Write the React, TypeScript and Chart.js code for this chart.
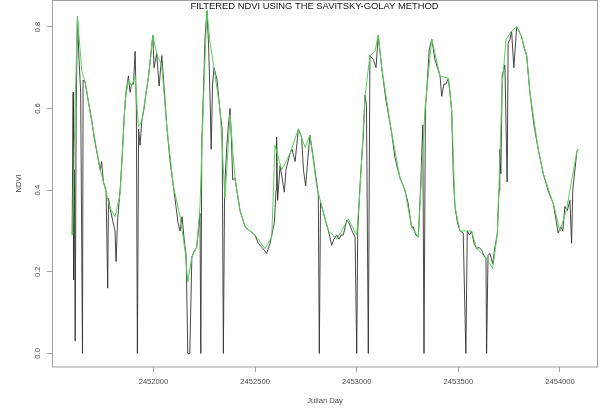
import React, { useEffect, useRef } from "react";
import { Chart, registerables } from "chart.js";

Chart.register(...registerables);

const TITLE = "FILTERED NDVI USING THE SAVITSKY-GOLAY METHOD";
const X_LABEL = "Julian Day";
const Y_LABEL = "NDVI";
const X_TICKS = [2452000, 2452500, 2453000, 2453500, 2454000];
const X_TICK_LABELS = ["2452000", "2452500", "2453000", "2453500", "2454000"];
const Y_TICKS = [0, 0.2, 0.4, 0.6, 0.8];
const Y_TICK_LABELS = ["0.0", "0.2", "0.4", "0.6", "0.8"];

// raw NDVI (black)
const rawDays = [
  2451600, 2451605, 2451607, 2451611, 2451615, 2451620, 2451626, 2451634, 2451642, 2451651,
  2451654, 2451664, 2451679, 2451697, 2451708, 2451723, 2451738, 2451745, 2451754, 2451767,
  2451775, 2451779, 2451787, 2451802, 2451811, 2451816, 2451824, 2451836, 2451846, 2451856,
  2451865, 2451877, 2451885, 2451893, 2451902, 2451910, 2451916, 2451921, 2451927, 2451934,
  2451943, 2451954, 2451964, 2451975, 2451984, 2451997, 2452003, 2452016, 2452028, 2452041,
  2452047, 2452057, 2452066, 2452082, 2452098, 2452111, 2452121, 2452131, 2452141, 2452151,
  2452161, 2452169, 2452179, 2452189, 2452200, 2452213, 2452221, 2452229, 2452233, 2452238,
  2452246, 2452254, 2452263, 2452271, 2452279, 2452284, 2452291, 2452298, 2452313, 2452328,
  2452338, 2452344, 2452350, 2452361, 2452369, 2452377, 2452384, 2452390, 2452401, 2452426,
  2452451, 2452475, 2452500, 2452515, 2452534, 2452557, 2452574, 2452582, 2452595, 2452603,
  2452606, 2452611, 2452623, 2452633, 2452644, 2452652, 2452672, 2452682, 2452697, 2452713,
  2452729, 2452738, 2452749, 2452760, 2452770, 2452786, 2452800, 2452811, 2452816, 2452822,
  2452831, 2452844, 2452861, 2452877, 2452888, 2452902, 2452913, 2452923, 2452934, 2452951,
  2452962, 2452977, 2452992, 2453000, 2453005, 2453016, 2453033, 2453041, 2453048, 2453057,
  2453065, 2453082, 2453095, 2453106, 2453123, 2453144, 2453172, 2453188, 2453213, 2453237,
  2453252, 2453270, 2453278, 2453291, 2453303, 2453314, 2453325, 2453331, 2453338, 2453344,
  2453357, 2453369, 2453385, 2453410, 2453418, 2453429, 2453439, 2453451, 2453459, 2453467,
  2453475, 2453483, 2453496, 2453508, 2453524, 2453537, 2453544, 2453555, 2453565, 2453577,
  2453590, 2453601, 2453615, 2453626, 2453636, 2453639, 2453646, 2453655, 2453669, 2453680,
  2453692, 2453700, 2453704, 2453709, 2453716, 2453729, 2453740, 2453745, 2453754, 2453762,
  2453773, 2453787, 2453798, 2453811, 2453823, 2453836, 2453852, 2453872, 2453893, 2453918,
  2453941, 2453967, 2453983, 2453991, 2454004, 2454014, 2454024, 2454036, 2454049, 2454057,
  2454063, 2454083, 2454088,
];
const rawNdvi = [
  0.29, 0.64, 0.18, 0.45, 0.03, 0.6, 0.825, 0.72, 0.64, 0.0,
  0.67, 0.665, 0.62, 0.57, 0.53, 0.49, 0.45, 0.47, 0.42, 0.4,
  0.16, 0.38, 0.355, 0.32, 0.3, 0.225, 0.33, 0.4, 0.48, 0.58,
  0.64, 0.68, 0.64, 0.66, 0.66, 0.74, 0.6, 0.0, 0.55, 0.51,
  0.57, 0.6, 0.64, 0.675, 0.715, 0.78, 0.7, 0.735, 0.655, 0.73,
  0.69, 0.62, 0.555, 0.47, 0.41, 0.36, 0.32, 0.3, 0.335, 0.28,
  0.24, 0.0, 0.0, 0.236, 0.25, 0.26, 0.3, 0.343, 0.0, 0.52,
  0.64, 0.775, 0.84, 0.76, 0.62, 0.5, 0.66, 0.7, 0.67, 0.59,
  0.55, 0.0, 0.4, 0.51, 0.56, 0.6, 0.52, 0.425, 0.43, 0.35,
  0.31, 0.3, 0.29, 0.27, 0.26, 0.245, 0.27, 0.29, 0.32, 0.4,
  0.53, 0.375, 0.46, 0.43, 0.395, 0.45, 0.49, 0.5, 0.47, 0.55,
  0.53, 0.45, 0.41, 0.48, 0.535, 0.48, 0.43, 0.39, 0.0, 0.37,
  0.355, 0.33, 0.3, 0.265, 0.28, 0.29, 0.28, 0.29, 0.29, 0.327,
  0.32, 0.3, 0.285, 0.0, 0.3, 0.41, 0.54, 0.633, 0.61, 0.0,
  0.73, 0.72, 0.7, 0.78, 0.7, 0.62, 0.54, 0.48, 0.43, 0.4,
  0.37, 0.31, 0.31, 0.29, 0.285, 0.4, 0.56, 0.0, 0.6, 0.64,
  0.745, 0.77, 0.72, 0.68, 0.63, 0.66, 0.66, 0.674, 0.64, 0.596,
  0.44, 0.36, 0.32, 0.3, 0.295, 0.0, 0.3, 0.29, 0.3, 0.27,
  0.257, 0.26, 0.253, 0.24, 0.233, 0.0, 0.24, 0.245, 0.22, 0.26,
  0.295, 0.4, 0.5, 0.44, 0.68, 0.707, 0.42, 0.76, 0.77, 0.79,
  0.7, 0.8, 0.79, 0.776, 0.75, 0.73, 0.64, 0.56, 0.5, 0.44,
  0.4, 0.367, 0.32, 0.295, 0.31, 0.3, 0.36, 0.35, 0.375, 0.27,
  0.4, 0.495, 0.5,
];

// Savitsky-Golay filtered NDVI (green)
const sgDays = [
  2451603, 2451610, 2451626, 2451648, 2451664, 2451689, 2451738, 2451754, 2451787, 2451811,
  2451836, 2451861, 2451877, 2451893, 2451910, 2451926, 2451943, 2451975, 2451997, 2452016,
  2452041, 2452066, 2452098, 2452131, 2452156, 2452169, 2452189, 2452213, 2452229, 2452246,
  2452263, 2452279, 2452298, 2452328, 2452352, 2452377, 2452401, 2452426, 2452451, 2452500,
  2452549, 2452582, 2452598, 2452631, 2452672, 2452713, 2452746, 2452770, 2452803, 2452831,
  2452861, 2452903, 2452958, 2453000, 2453016, 2453041, 2453065, 2453090, 2453106, 2453123,
  2453172, 2453213, 2453237, 2453270, 2453303, 2453336, 2453369, 2453410, 2453451, 2453468,
  2453483, 2453508, 2453565, 2453590, 2453636, 2453669, 2453692, 2453716, 2453735, 2453762,
  2453787, 2453811, 2453836, 2453852, 2453893, 2453918, 2453967, 2453983, 2454000, 2454033,
  2454083, 2454088,
];
const sgNdvi = [
  0.29, 0.5, 0.825, 0.69, 0.665, 0.59, 0.45, 0.42, 0.355, 0.335,
  0.39, 0.62, 0.67, 0.655, 0.68, 0.555, 0.57, 0.675, 0.78, 0.735,
  0.705, 0.555, 0.41, 0.335, 0.25, 0.175, 0.236, 0.26, 0.36, 0.62,
  0.84, 0.76, 0.7, 0.596, 0.38, 0.585, 0.43, 0.35, 0.31, 0.29,
  0.257, 0.285, 0.51, 0.45, 0.49, 0.55, 0.505, 0.535, 0.41, 0.355,
  0.3, 0.28, 0.33, 0.29, 0.4, 0.63, 0.73, 0.74, 0.78, 0.7,
  0.54, 0.43, 0.4, 0.31, 0.285, 0.6, 0.77, 0.68, 0.674, 0.59,
  0.36, 0.3, 0.3, 0.257, 0.235, 0.208, 0.295, 0.66, 0.77, 0.79,
  0.8, 0.776, 0.73, 0.64, 0.5, 0.44, 0.367, 0.335, 0.3, 0.355,
  0.495, 0.5,
];

const X_MIN = 2451501;
const X_MAX = 2454187;
const Y_MIN = -0.0333;
const Y_MAX = 0.866;

const FONT = "'Liberation Sans', Arial, Helvetica, sans-serif";
const BOX_COLOR = "#a0a0a0";
const TEXT_COLOR = "#4a4a4a";

const framePlugin = {
  id: "rframe",
  afterDraw(chart: any) {
    const { ctx, chartArea } = chart;
    const { left, right, top, bottom } = chartArea;
    const yScale = chart.scales.y;
    ctx.save();
    ctx.strokeStyle = BOX_COLOR;
    ctx.lineWidth = 1;
    ctx.strokeRect(left + 0.5, top + 0.5, right - left - 1, bottom - top - 0.5);
    ctx.fillStyle = "#111";
    ctx.font = `9.4px ${FONT}`;
    ctx.textAlign = "center";
    ctx.textBaseline = "middle";
    ctx.fillText(TITLE, left + (right - left) * 0.4808, top + 6.5);
    ctx.fillStyle = TEXT_COLOR;
    ctx.font = `7.6px ${FONT}`;
    Y_TICKS.forEach((v, i) => {
      const py = yScale.getPixelForValue(v);
      ctx.save();
      ctx.translate(left - 14.3, py);
      ctx.rotate(-Math.PI / 2);
      ctx.textAlign = "center";
      ctx.textBaseline = "middle";
      ctx.fillText(Y_TICK_LABELS[i], 0, 0);
      ctx.restore();
    });
    ctx.save();
    ctx.translate(left - 33, (top + bottom) / 2);
    ctx.rotate(-Math.PI / 2);
    ctx.textAlign = "center";
    ctx.textBaseline = "middle";
    ctx.fillText(Y_LABEL, 0, 0);
    ctx.restore();
    ctx.textAlign = "center";
    ctx.textBaseline = "middle";
    ctx.fillText(X_LABEL, (left + right) / 2, bottom + 34);
    ctx.restore();
  },
};

export default function App() {
  const ref = useRef<HTMLCanvasElement | null>(null);
  useEffect(() => {
    document.body.style.margin = "0";
    const canvas = ref.current!;
    const chart = new Chart(canvas, {
      type: "line",
      data: {
        datasets: [
          {
            label: "Savitsky-Golay",
            data: sgDays.map((d, i) => ({ x: d, y: sgNdvi[i] })),
            borderColor: "#55d255",
            borderWidth: 1,
            pointRadius: 0,
            tension: 0,
            order: 0,
          },
          {
            label: "NDVI",
            data: rawDays.map((d, i) => ({ x: d, y: rawNdvi[i] })),
            borderColor: "#333333",
            borderWidth: 0.9,
            pointRadius: 0,
            tension: 0,
            order: 1,
          },
        ],
      },
      options: {
        animation: false,
        responsive: false,
        devicePixelRatio: 1,
        layout: { padding: { left: 0, right: 7, top: 0, bottom: 0 } },
        plugins: {
          legend: { display: false },
          title: { display: false },
          tooltip: { enabled: false },
        },
        scales: {
          x: {
            type: "linear",
            min: X_MIN,
            max: X_MAX,
            afterBuildTicks: (s: any) => {
              s.ticks = X_TICKS.map((v) => ({ value: v }));
            },
            afterFit: (s: any) => {
              s.height = 46;
            },
            grid: {
              drawOnChartArea: false,
              drawTicks: true,
              tickLength: 5,
              color: BOX_COLOR,
            },
            border: { display: false },
            ticks: {
              autoSkip: false,
              maxRotation: 0,
              minRotation: 0,
              padding: 5,
              color: TEXT_COLOR,
              font: { size: 7.6, family: FONT },
              callback: (v: any) => {
                const i = X_TICKS.indexOf(Number(v));
                return i >= 0 ? X_TICK_LABELS[i] : "";
              },
            },
          },
          y: {
            type: "linear",
            min: Y_MIN,
            max: Y_MAX,
            afterBuildTicks: (s: any) => {
              s.ticks = Y_TICKS.map((v) => ({ value: v }));
            },
            afterFit: (s: any) => {
              s.width = 52;
            },
            grid: {
              drawOnChartArea: false,
              drawTicks: true,
              tickLength: 5,
              color: BOX_COLOR,
            },
            border: { display: false },
            ticks: { display: false },
          },
        },
      },
      plugins: [framePlugin],
    });
    return () => chart.destroy();
  }, []);
  return (
    <div style={{ width: 605, height: 413, background: "#fff" }}>
      <canvas ref={ref} width={605} height={413} style={{ display: "block", width: 605, height: 413 }} />
    </div>
  );
}
